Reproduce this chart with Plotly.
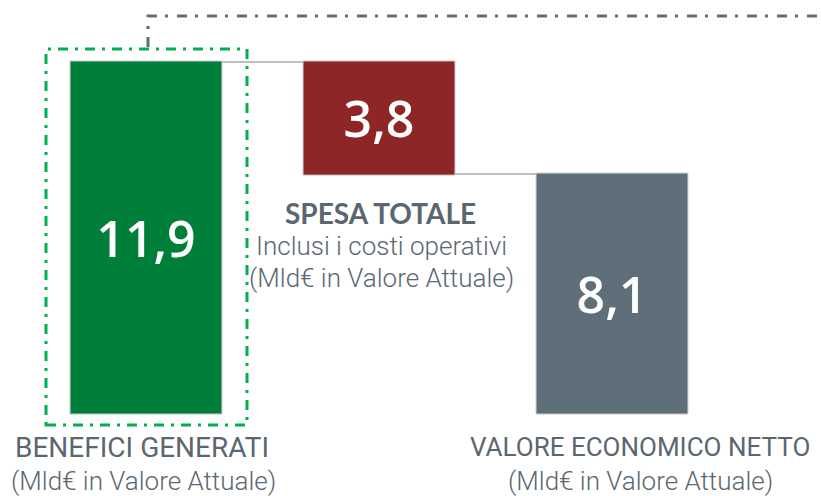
import plotly.graph_objects as go

categories = ["BENEFICI GENERATI", "SPESA TOTALE", "VALORE ECONOMICO NETTO"]
measures = ["relative", "relative", "total"]
values = [11.9, -3.8, 8.1]
value_labels = ["11,9", "3,8", "8,1"]

W, H = 821, 496
TEXT_GRAY = "#5b6770"

fig = go.Figure(go.Waterfall(
    x=[0, 1, 2],
    measure=measures,
    y=values,
    text=value_labels,
    textposition="inside",
    insidetextanchor="middle",
    textfont=dict(family="Open Sans", size=50, color="white", weight=600),
    width=0.652,
    increasing=dict(marker=dict(color="#007f3a", line=dict(color="#c8c8c8", width=1))),
    decreasing=dict(marker=dict(color="#8e2527", line=dict(color="#c8c8c8", width=1))),
    totals=dict(marker=dict(color="#5e6f7a", line=dict(color="#c8c8c8", width=1))),
    connector=dict(line=dict(color="#bfbfbf", width=2), mode="between"),
    hoverinfo="skip",
))

px_per_unit = 351 / 11.9
fig.update_layout(
    width=W, height=H,
    margin=dict(l=0, r=0, t=0, b=0),
    paper_bgcolor="white", plot_bgcolor="white",
    showlegend=False,
    separators=",.",
    xaxis=dict(range=[-146 / 233, (W - 146) / 233], visible=False, fixedrange=True),
    yaxis=dict(range=[-(H - 413) / px_per_unit, 413 / px_per_unit], visible=False, fixedrange=True),
)

def px(x):
    return x / W

def py(y):
    return 1 - y / H

# green dash-dot frame around first bar
fig.add_shape(type="rect", xref="paper", yref="paper",
              x0=px(46), x1=px(247), y0=py(425), y1=py(49),
              line=dict(color="#00b050", width=3, dash="10px,7px,3px,7px"))
# gray dash-dot bracket at top
fig.add_shape(type="path", xref="paper", yref="paper",
              path=f"M {px(148)},{py(47)} L {px(148)},{py(16)} L {px(W)},{py(16)}",
              line=dict(color="#5e6f7a", width=3, dash="10px,8px,3px,9px"))

def ann(text, x, y, size, family, weight, color=TEXT_GRAY):
    fig.add_annotation(xref="paper", yref="paper", x=px(x), y=py(y),
                       text=text, showarrow=False, xanchor="center", yanchor="middle",
                       font=dict(family=family, size=size, color=color, weight=weight))

ann("BENEFICI GENERATI", 142, 447, 28, "Roboto", 400)
ann("(Mld€ in Valore Attuale)", 143, 481, 26, "Roboto", 300)
ann("VALORE ECONOMICO NETTO", 640, 447, 26, "Roboto", 400)
ann("(Mld€ in Valore Attuale)", 640, 481, 26, "Roboto", 300)

ann("SPESA TOTALE", 380, 213, 28, "Lato", 700)
ann("Inclusi i costi operativi", 381, 246, 26, "Roboto", 300)
ann("(Mld€ in Valore Attuale)", 381, 278, 26, "Roboto", 300)

fig.write_html("out.html",
               config={"displayModeBar": False, "staticPlot": True},
               post_script="document.body.style.margin='0';document.body.style.overflow='hidden';")
